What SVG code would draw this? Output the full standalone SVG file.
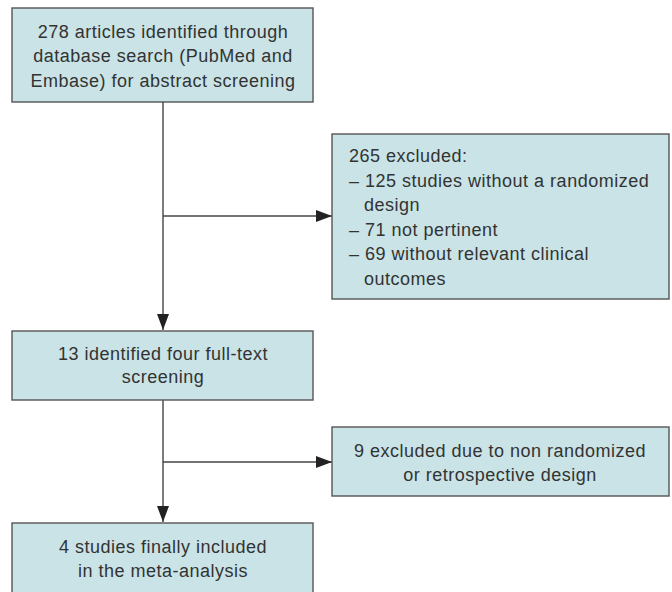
<svg xmlns="http://www.w3.org/2000/svg" width="672" height="592" viewBox="0 0 672 592">
<defs>
<marker id="ah" viewBox="0 0 16 12" refX="16" refY="6" markerWidth="16" markerHeight="12" markerUnits="userSpaceOnUse" orient="auto">
<path d="M0,0 L16,6 L0,12 Z" fill="#222"/>
</marker>
<style>
.box{fill:#c9e3e6;stroke:#555;stroke-width:1.4}
.t{font-family:"Liberation Sans",Arial,sans-serif;font-size:18px;fill:#333;letter-spacing:0.5px}
.c{text-anchor:middle}
.ln{fill:none;stroke:#444;stroke-width:1.4}
</style>
</defs>
<rect width="672" height="592" fill="#fff"/>
<g id="connectors">
<line class="ln" x1="163" y1="102" x2="163" y2="330" marker-end="url(#ah)"/>
<line class="ln" x1="163" y1="216" x2="332" y2="216" marker-end="url(#ah)"/>
<line class="ln" x1="163" y1="400" x2="163" y2="522" marker-end="url(#ah)"/>
<line class="ln" x1="163" y1="462" x2="332" y2="462" marker-end="url(#ah)"/>
</g>
<g id="n1">
<rect class="box" x="12" y="8" width="301" height="94"/>
<text class="t c" x="163" y="37.5">278 articles identified through</text>
<text class="t c" x="163" y="62">database search (PubMed and</text>
<text class="t c" x="163" y="86.5">Embase) for abstract screening</text>
</g>
<g id="n2">
<rect class="box" x="332" y="134" width="337" height="165"/>
<text class="t" x="349" y="162">265 excluded:</text>
<text class="t" x="349" y="186.5">– 125 studies without a randomized</text>
<text class="t" x="364" y="211">design</text>
<text class="t" x="349" y="235.5">– 71 not pertinent</text>
<text class="t" x="349" y="260">– 69 without relevant clinical</text>
<text class="t" x="364" y="284.5">outcomes</text>
</g>
<g id="n3">
<rect class="box" x="12" y="331" width="301" height="69"/>
<text class="t c" x="163" y="360">13 identified four full-text</text>
<text class="t c" x="163" y="383">screening</text>
</g>
<g id="n4">
<rect class="box" x="332" y="427" width="337" height="69"/>
<text class="t c" x="500" y="457">9 excluded due to non randomized</text>
<text class="t c" x="500" y="481">or retrospective design</text>
</g>
<g id="n5">
<rect class="box" x="12" y="523" width="301" height="80"/>
<text class="t c" x="163" y="553">4 studies finally included</text>
<text class="t c" x="163" y="577">in the meta-analysis</text>
</g>
</svg>
